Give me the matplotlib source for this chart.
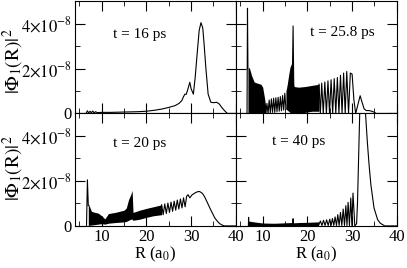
import matplotlib
matplotlib.use("Agg")
import matplotlib.pyplot as plt
from matplotlib.ticker import MultipleLocator

plt.rcParams['font.family'] = ['Liberation Serif', 'DejaVu Serif']
plt.rcParams['mathtext.fontset'] = 'stix'

SCALE = 1e-8  # all values below are in units of 1e-8

# t = 16 ps (top left)
r16 = [6.5, 6.8, 7.1, 7.4, 7.7, 8.0, 8.3, 8.6, 9.0, 10, 12, 14, 16, 18, 20, 22, 23.5, 25,
       26.4, 27.3, 27.9, 28.3, 28.6, 28.9, 29.3, 29.7, 30.0, 30.5, 30.9, 31.4, 31.8, 32.2,
       32.6, 32.9, 33.3, 33.8, 34.4, 35.0, 35.7, 36.3, 36.8, 37.5, 38.1, 40]
p16 = [0.0, 0.12, 0.02, 0.1, 0.03, 0.11, 0.02, 0.08, 0.04, 0.05, 0.05, 0.06, 0.07, 0.08,
       0.1, 0.15, 0.2, 0.27, 0.35, 0.45, 0.57, 0.75, 0.86, 0.85, 1.1, 1.39, 1.1, 0.86, 1.6,
       2.79, 3.7, 4.04, 3.8, 3.08, 2.0, 0.86, 0.5, 0.48, 0.5, 0.42, 0.28, 0.12, 0.0, 0.0]

# t = 25.8 ps (top right)
r258_spike = [6.5, 6.6, 6.7]
p258_spike = [0.0, 4.68, 2.0]
r258_band1 = [6.7, 7.0, 7.5, 8.1, 8.8, 9.6, 10.0, 10.4, 10.7]
hi258_band1 = [2.0, 2.05, 1.7, 1.4, 1.35, 1.3, 1.17, 0.7, 0.28]
r258_zig = [10.7, 10.95, 11.2, 11.45, 11.7, 11.95, 12.2, 12.45, 12.7, 12.95, 13.2, 13.45,
            13.7, 13.95, 14.2, 14.45, 14.7, 14.95, 15.2]
p258_zig = [0.0, 0.45, 0.0, 0.6, 0.02, 0.65, 0.05, 0.68, 0.05, 0.7, 0.08, 0.72, 0.1, 0.75,
            0.12, 0.8, 0.15, 0.9, 0.2]
r258_band2 = [15.2, 15.5, 15.8, 16.1, 16.4, 16.7, 16.9, 17.0, 18.0, 19.5, 21.0, 22.6]
hi258_band2 = [1.0, 1.3, 1.7, 2.05, 2.2, 2.3, 1.3, 1.2, 1.17, 1.2, 1.25, 1.3]
lo258_band2 = [0.2, 0.15, 0.1, 0.05, 0.0, 0.0, 0.0, 0.0, 0.0, 0.05, 0.1, 0.1]
r258_pk = [16.65, 16.8, 16.95]
p258_pk = [1.8, 3.89, 1.2]
r258_osc = [22.6, 22.9, 23.2, 23.55, 23.9, 24.25, 24.6, 24.95, 25.3, 25.65, 26.0, 26.35,
            26.7, 27.05, 27.4, 27.75, 28.1, 28.45, 28.8, 29.2, 29.6, 30.0, 30.4, 30.8,
            31.3, 31.8, 32.3, 32.7, 33.2, 33.8, 34.4, 34.9, 35.4, 40]
p258_osc = [1.3, 0.0, 1.35, 0.0, 1.4, 0.0, 1.45, 0.0, 1.5, 0.0, 1.55, 0.0, 1.6, 0.0, 1.7,
            0.0, 1.8, 0.0, 1.87, 0.0, 1.8, 1.75, 0.6, 0.0, 0.4, 0.79, 0.45, 0.2, 0.13, 0.13,
            0.1, 0.06, 0.0, 0.0]

# t = 20 ps (bottom left)
r20_spike = [6.6, 6.8, 7.0]
p20_spike = [0.0, 2.05, 0.9]
r20_band = [7.0, 7.7, 8.5, 9.2, 10.0, 10.7, 11.5, 13.0, 15.0, 15.5, 16.0, 16.5, 16.8,
            17.0, 18.5, 20.0, 21.5, 23.4]
hi20_band = [1.0, 0.65, 0.6, 0.57, 0.45, 0.31, 0.55, 0.6, 0.7, 0.8, 1.17, 1.4, 1.58, 0.6,
             0.7, 0.78, 0.85, 0.94]
lo20_band = [0.02, 0.04, 0.06, 0.08, 0.1, 0.08, 0.12, 0.15, 0.18, 0.2, 0.25, 0.3, 0.3,
             0.25, 0.3, 0.38, 0.45, 0.5]
r20_osc = [23.4, 23.75, 24.1, 24.45, 24.8, 25.15, 25.5, 25.85, 26.2, 26.55, 26.9, 27.25,
           27.6, 27.95, 28.3, 28.65, 29.0, 29.3, 29.7, 30.2, 30.8, 31.4, 31.9, 32.5, 33.0,
           33.6, 34.2, 34.8, 35.3, 35.9, 36.4, 37.0, 37.5, 40]
p20_osc = [0.94, 0.5, 0.98, 0.55, 1.02, 0.6, 1.06, 0.65, 1.1, 0.7, 1.15, 0.75, 1.2, 0.8,
           1.25, 0.85, 1.32, 1.39, 1.25, 1.38, 1.46, 1.52, 1.53, 1.45, 1.3, 1.05, 0.79, 0.55,
           0.35, 0.2, 0.1, 0.03, 0.0, 0.0]

# t = 40 ps (bottom right)
r40_band = [6.8, 8.0, 10.0, 12.0, 14.0, 16.0, 18.0, 20.0, 22.5]
hi40_band = [0.22, 0.18, 0.13, 0.12, 0.12, 0.13, 0.15, 0.16, 0.18]
lo40_band = [0.0] * len(r40_band)
r40_noise = [6.8, 6.85, 6.9, 16.7, 16.8, 16.9]
p40_noise = [0.0, 0.38, 0.0, 0.1, 0.32, 0.1]
r40_osc = [22.5, 22.9, 23.25, 23.6, 23.95, 24.3, 24.65, 25.0, 25.3, 25.6, 25.9, 26.2,
           26.5, 26.8, 27.1, 27.4, 27.7, 28.0, 28.3, 28.6, 28.85, 29.1, 29.4, 29.7, 29.95,
           30.2, 30.6, 31.0, 31.2, 31.45, 31.7, 32.0, 32.4, 32.8, 33.0, 33.4, 33.8, 34.2,
           34.9, 35.7, 36.3, 36.8, 37.3, 40]
p40_osc = [0.02, 0.22, 0.02, 0.25, 0.02, 0.27, 0.02, 0.3, 0.02, 0.33, 0.02, 0.4, 0.02, 0.5,
           0.02, 0.6, 0.02, 0.75, 0.02, 0.9, 0.02, 1.05, 0.02, 1.24, 0.02, 1.46, 0.0, 0.1,
           1.0, 3.0, 5.0, 5.8, 6.1, 5.6, 5.0, 3.75, 2.7, 1.83, 0.8, 0.28, 0.12, 0.06, 0.0, 0.0]

labels = ['t = 16 ps', 't = 25.8 ps', 't = 20 ps', 't = 40 ps']
yticks = [0, 2e-8, 4e-8]
yticklabels = ['0', r'$2{\times}10^{-8}$', r'$4{\times}10^{-8}$']
xticks = [10, 20, 30, 40]
ylabel = r'$\mathrm{|\Phi_1(R)|^2}$'


def s(vals):
    return [v * SCALE for v in vals]


fig, axes = plt.subplots(2, 2, figsize=(4.07, 2.68), dpi=100, sharex=True, sharey=True)
fig.subplots_adjust(left=0.184, right=0.975, top=0.996, bottom=0.157, hspace=0, wspace=0)
lw = 0.8
k = 'black'

ax = axes[0, 0]
ax.plot(r16, s(p16), color=k, lw=lw)

ax = axes[0, 1]
ax.plot(r258_spike, s(p258_spike), color=k, lw=lw)
ax.fill_between(r258_band1, 0, s(hi258_band1), color=k, lw=0)
ax.plot(r258_zig, s(p258_zig), color=k, lw=lw)
ax.fill_between(r258_band2, s(lo258_band2), s(hi258_band2), color=k, lw=0)
ax.plot(r258_pk, s(p258_pk), color=k, lw=lw)
ax.plot(r258_osc, s(p258_osc), color=k, lw=lw)

ax = axes[1, 0]
ax.plot(r20_spike, s(p20_spike), color=k, lw=lw)
ax.fill_between(r20_band, s(lo20_band), s(hi20_band), color=k, lw=0)
ax.plot(r20_osc, s(p20_osc), color=k, lw=lw)

ax = axes[1, 1]
ax.fill_between(r40_band, s(lo40_band), s(hi40_band), color=k, lw=0)
ax.plot(r40_noise, s(p40_noise), color=k, lw=lw)
ax.plot(r40_osc, s(p40_osc), color=k, lw=lw)

text_pos = [(0.40, 0.70), (0.66, 0.72), (0.40, 0.73), (0.39, 0.75)]
for ax, lab, (tx, ty) in zip(axes.flat, labels, text_pos):
    ax.set_xlim(4, 40)
    ax.set_ylim(0, 5e-8)
    ax.xaxis.set_major_locator(MultipleLocator(10))
    ax.xaxis.set_minor_locator(MultipleLocator(5))
    ax.yaxis.set_minor_locator(MultipleLocator(1e-8))
    ax.set_yticks(yticks)
    ax.set_xticks(xticks)
    ax.tick_params(which='both', direction='in', top=True, right=True, labelsize=12,
                   pad=2)
    ax.tick_params(which='major', length=7)
    ax.tick_params(which='minor', length=3.5)
    ax.text(tx, ty, lab, transform=ax.transAxes, ha='center', va='center', fontsize=11)

for ax in axes[:, 0]:
    ax.set_yticklabels(yticklabels)
# y labels placed in figure coordinates, left of the tick labels
fig.text(0.032, 0.77, ylabel, rotation=90, ha='center', va='center', fontsize=14)
fig.text(0.032, 0.373, ylabel, rotation=90, ha='center', va='center', fontsize=14)
for ax in axes[1, :]:
    ax.set_xticklabels([str(v) for v in xticks])
    ax.set_xlabel(r'R (a$_0$)', fontsize=12, labelpad=0)
axes[0, 0].tick_params(labelbottom=False)
axes[0, 1].tick_params(labelbottom=False, labelleft=False)
axes[1, 1].tick_params(labelleft=False)

fig.savefig('out.png', dpi=100)
